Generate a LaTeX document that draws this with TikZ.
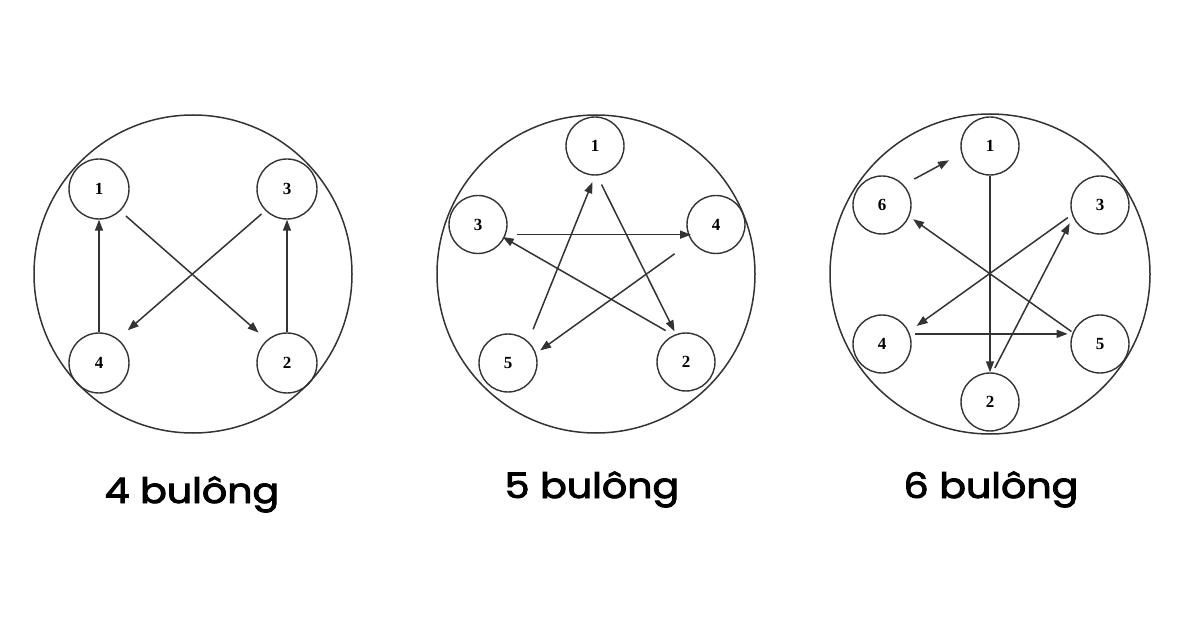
\documentclass[tikz,border=0pt]{standalone}
\usepackage{fontspec}
\setmainfont{Liberation Serif}
\newfontfamily\labfont{Poppins}[FakeBold=2.5]
\usetikzlibrary{arrows.meta}
\definecolor{linec}{HTML}{333333}
\newcommand{\wlabel}[1]{\scalebox{1.13}[1]{#1}}
\tikzset{
  big/.style={draw=linec, line width=1.5pt, circle, inner sep=0pt},
  bolt/.style={draw=linec, line width=1.4pt, circle, inner sep=0pt, minimum size=58pt, font=\fontsize{17}{17}\selectfont\bfseries, text=black},
  boltA/.style={bolt, minimum size=60pt},
  arr/.style={draw=linec, line width=1.5pt, -{Triangle[length=11pt,width=8pt]}},
  lbl/.style={font=\labfont\fontsize{35}{35}\selectfont, text=black, anchor=base}
}
\begin{document}
\begin{tikzpicture}[x=1pt,y=-1pt]
\useasboundingbox[fill=white] (0,0) rectangle (1200,628);
% ---------- 4 bolts ----------
\node[big, minimum size=318pt] (A) at (193,274) {};
\node[boltA] (a1) at (99,189) {1};
\node[boltA] (a3) at (287,189) {3};
\node[boltA] (a4) at (99,363) {4};
\node[boltA] (a2) at (287,363) {2};
\draw[arr] (a4.north) -- (a1.south);
\draw[arr, shorten <=7.5pt, shorten >=11pt] (a1.-46) -- (a2.131);
\draw[arr] (a2.north) -- (a3.south);
\draw[arr, shorten <=5pt, shorten >=13pt] (a3.-135) -- (a4.52);
\node[lbl] (ta) at (192,503) {\wlabel{4 bulông}};
% ---------- 5 bolts ----------
\node[big, minimum size=318pt] (B) at (596,274) {};
\node[bolt] (b1) at (595,146) {1};
\node[bolt] (b3) at (478,224.5) {3};
\node[bolt] (b4) at (716,224.5) {4};
\node[bolt] (b5) at (508,363) {5};
\node[bolt] (b2) at (686,362) {2};
\draw[arr, shorten <=10pt, shorten >=3pt] (b1.-86) -- (b2.110);
\draw[arr, shorten <=9pt, shorten >=-2pt] (b2.115) -- (b3.-27);
\draw[arr, shorten <=11pt, shorten >=-3pt] (b3.-20) -- (b4.-160);
\draw[arr, shorten <=21pt, shorten >=5pt] (b4.-145) -- (b5.19);
\draw[arr, shorten <=13pt, shorten >=7pt] (b5.47) -- (b1.-90);
\node[lbl] (tb) at (592,498) {\wlabel{5 bulông}};
% ---------- 6 bolts ----------
\node[big, minimum size=320pt] (C) at (990,274) {};
\node[bolt] (c1) at (990,146) {1};
\node[bolt] (c6) at (882,205) {6};
\node[bolt] (c3) at (1100,205) {3};
\node[bolt] (c4) at (882,344) {4};
\node[bolt] (c5) at (1100,344) {5};
\node[bolt] (c2) at (990,402) {2};
\draw[arr] (c1.south) -- (c2.north);
\draw[arr, shorten <=5pt, shorten >=7pt] (c2.85) -- (c3.-156);
\draw[arr, shorten <=5pt, shorten >=9.5pt] (c3.-161) -- (c4.25);
\draw[arr, shorten <=5.5pt, shorten >=4.5pt] (c4.20) -- (c5.160);
\draw[arr, shorten <=1.5pt, shorten >=4.5pt] (c5.157) -- (c6.-23);
\draw[arr, shorten <=12pt, shorten >=14pt] (c6.43) -- (c1.195);
\node[lbl] (tc) at (991,498) {\wlabel{6 bulông}};
\end{tikzpicture}
\end{document}
